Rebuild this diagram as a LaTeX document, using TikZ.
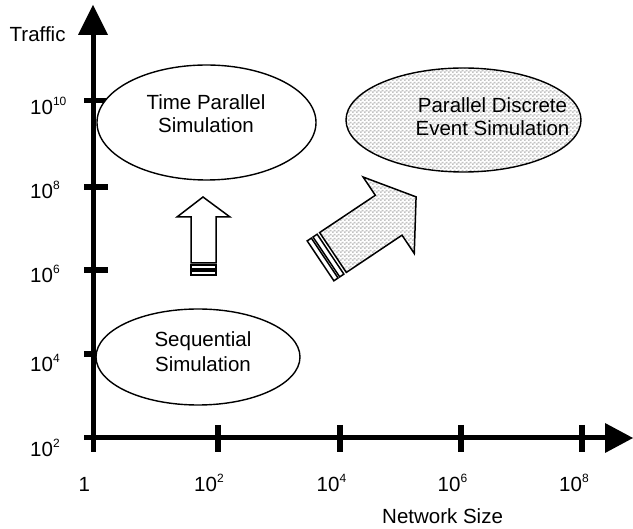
\documentclass[tikz,border=0pt]{standalone}
\usepackage{fontspec}
\setmainfont{Liberation Sans}
\usetikzlibrary{shapes.geometric,patterns}
\pgfdeclarepatterninherentlycolored{mychecker}{\pgfpointorigin}{\pgfpoint{4pt}{4pt}}{\pgfpoint{4pt}{4pt}}{%
  \pgfsetfillcolor{white}%
  \pgfpathrectangle{\pgfpointorigin}{\pgfpoint{4pt}{4pt}}\pgfusepath{fill}%
  \pgfsetfillcolor{black!24}%
  \pgfpathrectangle{\pgfpointorigin}{\pgfpoint{2pt}{2pt}}%
  \pgfpathrectangle{\pgfpoint{2pt}{2pt}}{\pgfpoint{2pt}{2pt}}\pgfusepath{fill}}
\newcommand\tenpow[1]{10\raisebox{9pt}{\fontsize{12}{12}\selectfont #1}}
\begin{document}
\begin{tikzpicture}[x=1pt,y=-1pt,
  axisline/.style={line width=5pt},
  tickbar/.style={line width=5.5pt},
  lbl/.style={font=\fontsize{20.5}{23}\selectfont, inner sep=0pt, anchor=base west},
  ctext/.style={font=\fontsize{20.5}{23}\selectfont, align=center, inner sep=0pt},
  bubble/.style={ellipse, draw, line width=1.4pt, fill=white, inner sep=0pt},
  blockarrow/.style={draw, line width=1.5pt, line join=miter}]
\useasboundingbox (0,0) rectangle (633,529);

% origin and axis ends
\coordinate (O) at (93,438);
\coordinate (ybot) at (93,452);
\coordinate (yend) at (93,34);
\coordinate (ytip) at (93,5);
\coordinate (xbeg) at (84,438);
\coordinate (xend) at (605,438);
\coordinate (xtip) at (633,438);

% y ticks
\foreach \yy in {100.5,187,270,354}
  \draw[tickbar] (84,\yy) -- (108,\yy);
% x ticks
\foreach \xx in {218,340,461,582}
  \draw[tickbar] (\xx,425) -- (\xx,452);

% ellipses
\node[bubble, minimum width=219pt, minimum height=115pt] (tps) at (206.5,122.5) {};
\node[bubble, minimum width=235pt, minimum height=104pt, fill=none, pattern=mychecker] (pdes) at (463.5,120) {};
\node[bubble, minimum width=204pt, minimum height=96pt] (seq) at (198,357) {};

\node[ctext] (tpst) at (206,114) {Time Parallel\\Simulation};
\node[ctext] (pdest) at (492.5,117) {Parallel Discrete\\Event Simulation};
\node[ctext, font=\fontsize{20.5}{24.5}\selectfont] (seqt) at (203,351.5) {Sequential\\Simulation};

% axes
\draw[axisline] (ybot) -- (yend);
\fill (78,35) -- (ytip) -- (108,35) -- cycle;
\draw[axisline] (xbeg) -- (xend);
\fill (605,423) -- (xtip) -- (605,453) -- cycle;

% up block arrow
\draw[blockarrow, fill=white] (191,263) -- (191,217) -- (177,217) -- (203,197) -- (230,217) -- (216,217) -- (216,263) -- cycle;
\draw[line width=1.5pt] (191,265) rectangle (216,269);
\draw[line width=1.5pt] (191,271) rectangle (216,275);

% diagonal block arrow
\begin{scope}[shift={(333,252.5)}, rotate=33.8]
  \draw[blockarrow, pattern=mychecker] (0,-24) -- (67,-24) -- (67,-46) -- (100,0) -- (67,46) -- (67,24) -- (0,24) -- cycle;
  \draw[line width=1.5pt] (-3,-24) rectangle (-8,24);
  \draw[line width=1.5pt] (-10,-24) rectangle (-15,24);
\end{scope}

% labels
\node[lbl] (traffic) at (9.5,42) {Traffic};
\node[lbl] (y10) at (30,115) {\tenpow{10}};
\node[lbl] (y8) at (30,199) {\tenpow{8}};
\node[lbl] (y6) at (30,283) {\tenpow{6}};
\node[lbl] (y4) at (30,372) {\tenpow{4}};
\node[lbl] (y2) at (30,457) {\tenpow{2}};
\node[lbl] (x1) at (78.5,492) {1};
\node[lbl] (x2) at (194,492) {\tenpow{2}};
\node[lbl] (x4) at (316.5,492) {\tenpow{4}};
\node[lbl] (x6) at (437.5,492) {\tenpow{6}};
\node[lbl] (x8) at (559,492) {\tenpow{8}};
\node[lbl] (netsize) at (382,524) {Network Size};
\end{tikzpicture}
\end{document}
